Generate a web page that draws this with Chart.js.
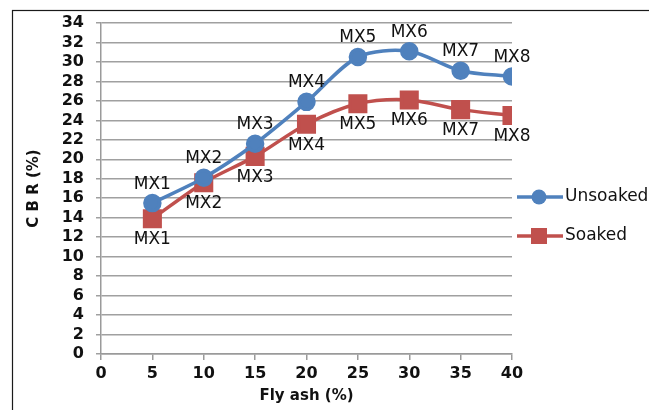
<!DOCTYPE html>
<html lang="en">
<head>
<meta charset="UTF-8">
<title>CBR vs Fly ash</title>
<script src="https://cdn.jsdelivr.net/npm/chart.js"></script>
<style>
  html, body { margin: 0; padding: 0; background: #fff; }
  #wrap { width: 649px; height: 410px; position: relative; }
</style>
</head>
<body>
<div id="wrap"><canvas id="cbrChart"></canvas></div>
<script>
    // data
    const flyAsh = [5, 10, 15, 20, 25, 30, 35, 40];
    const mixLabels = ['MX1', 'MX2', 'MX3', 'MX4', 'MX5', 'MX6', 'MX7', 'MX8'];
    const unsoaked = [15.5, 18.1, 21.6, 25.9, 30.5, 31.1, 29.1, 28.5];
    const soaked = [13.9, 17.6, 20.3, 23.6, 25.7, 26.1, 25.1, 24.5];
    const seriesNames = ['Unsoaked', 'Soaked'];

    const blue = '#4f81bd';
    const red = '#c0504d';

    function toPoints(vals) {
        return flyAsh.map(function (x, i) { return { x: x, y: vals[i] }; });
    }

    // outer frame of the excel chart
    const framePlugin = {
        id: 'frame',
        beforeDraw(chart) {
            const ctx = chart.ctx;
            ctx.save();
            ctx.fillStyle = '#fff';
            ctx.fillRect(0, 0, chart.width, chart.height);
            ctx.strokeStyle = '#1a1a1a';
            ctx.lineWidth = 1.2;
            ctx.strokeRect(12.5, 10.5, chart.width + 20, chart.height + 20);
            ctx.restore();
        }
    };

    // MX labels above blue points, below red points
    const labelPlugin = {
        id: 'mxLabels',
        afterDatasetsDraw(chart) {
            const ctx = chart.ctx;
            ctx.save();
            ctx.font = '17px "DejaVu Sans"';
            ctx.fillStyle = '#111';
            ctx.textAlign = 'center';
            ctx.textBaseline = 'middle';
            chart.data.datasets.forEach(function (ds, di) {
                const meta = chart.getDatasetMeta(di);
                meta.data.forEach(function (pt, i) {
                    const dy = di === 0 ? -19 : 21;
                    ctx.fillText(mixLabels[i], pt.x, pt.y + dy);
                });
            });
            ctx.restore();
        }
    };

    // legend with line through marker, like excel
    const legendPlugin = {
        id: 'xlLegend',
        afterDraw(chart) {
            const ctx = chart.ctx;
            const rows = [
                { name: seriesNames[0], color: blue, shape: 'circle', y: 197 },
                { name: seriesNames[1], color: red, shape: 'rect', y: 236 }
            ];
            ctx.save();
            rows.forEach(function (r) {
                ctx.strokeStyle = r.color;
                ctx.lineWidth = 3.5;
                ctx.beginPath();
                ctx.moveTo(517, r.y);
                ctx.lineTo(563, r.y);
                ctx.stroke();
                ctx.fillStyle = r.color;
                if (r.shape === 'circle') {
                    ctx.beginPath();
                    ctx.arc(539, r.y, 7.5, 0, Math.PI * 2);
                    ctx.fill();
                } else {
                    ctx.fillRect(531, r.y - 8, 16, 16);
                }
                ctx.fillStyle = '#111';
                ctx.font = '17px "DejaVu Sans"';
                ctx.textAlign = 'left';
                ctx.textBaseline = 'middle';
                ctx.fillText(r.name, 565, r.y);
            });
            ctx.restore();
        }
    };

    const dados = {
        datasets: [{
            label: seriesNames[0],
            data: toPoints(unsoaked),
            borderColor: blue,
            backgroundColor: blue,
            borderWidth: 3.5,
            pointStyle: 'circle',
            pointRadius: 7.5,
            pointHoverRadius: 7.5,
            tension: 0.3
        },
        {
            label: seriesNames[1],
            data: toPoints(soaked),
            borderColor: red,
            backgroundColor: red,
            borderWidth: 3.5,
            pointStyle: 'rect',
            pointRadius: 11,
            pointHoverRadius: 11,
            tension: 0.3
        }]
    };

    const config = {
        type: 'line',
        data: dados,
        options: {
            responsive: true,
            maintainAspectRatio: false,
            animation: false,
            layout: { padding: { left: 0, top: 23, right: 137, bottom: 0 } },
            plugins: {
                legend: { display: false },
                tooltip: { enabled: false }
            },
            scales: {
                x: {
                    type: 'linear',
                    min: 0,
                    max: 40,
                    ticks: {
                        stepSize: 5,
                        autoSkip: false,
                        color: '#111',
                        padding: 4,
                        font: { family: 'DejaVu Sans', size: 16, weight: 'bold' }
                    },
                    grid: { drawOnChartArea: false, drawTicks: true, tickLength: 6, color: '#9a9a9a', lineWidth: 1.5 },
                    border: { display: true, color: '#9a9a9a', width: 1.5 },
                    title: {
                        display: true,
                        text: 'Fly ash (%)',
                        color: '#111',
                        padding: { top: 0, bottom: 5 },
                        font: { family: 'DejaVu Sans', size: 15, weight: 'bold' }
                    },
                    afterFit(scale) { scale.height = 56; }
                },
                y: {
                    min: 0,
                    max: 34,
                    ticks: {
                        stepSize: 2,
                        autoSkip: false,
                        color: '#111',
                        padding: 12,
                        font: { family: 'DejaVu Sans', size: 16, weight: 'bold' }
                    },
                    grid: { color: '#a0a0a0', lineWidth: 1.5, tickLength: 5 },
                    border: { display: true, color: '#9a9a9a', width: 1.5 },
                    title: {
                        display: true,
                        text: 'C B R (%)',
                        color: '#111',
                        padding: { top: 25, bottom: 0 },
                        font: { family: 'DejaVu Sans', size: 15, weight: 'bold' }
                    },
                    afterFit(scale) { scale.width = 101; }
                }
            }
        },
        plugins: [framePlugin, labelPlugin, legendPlugin]
    };

    new Chart(document.getElementById('cbrChart'), config);
</script>
</body>
</html>
